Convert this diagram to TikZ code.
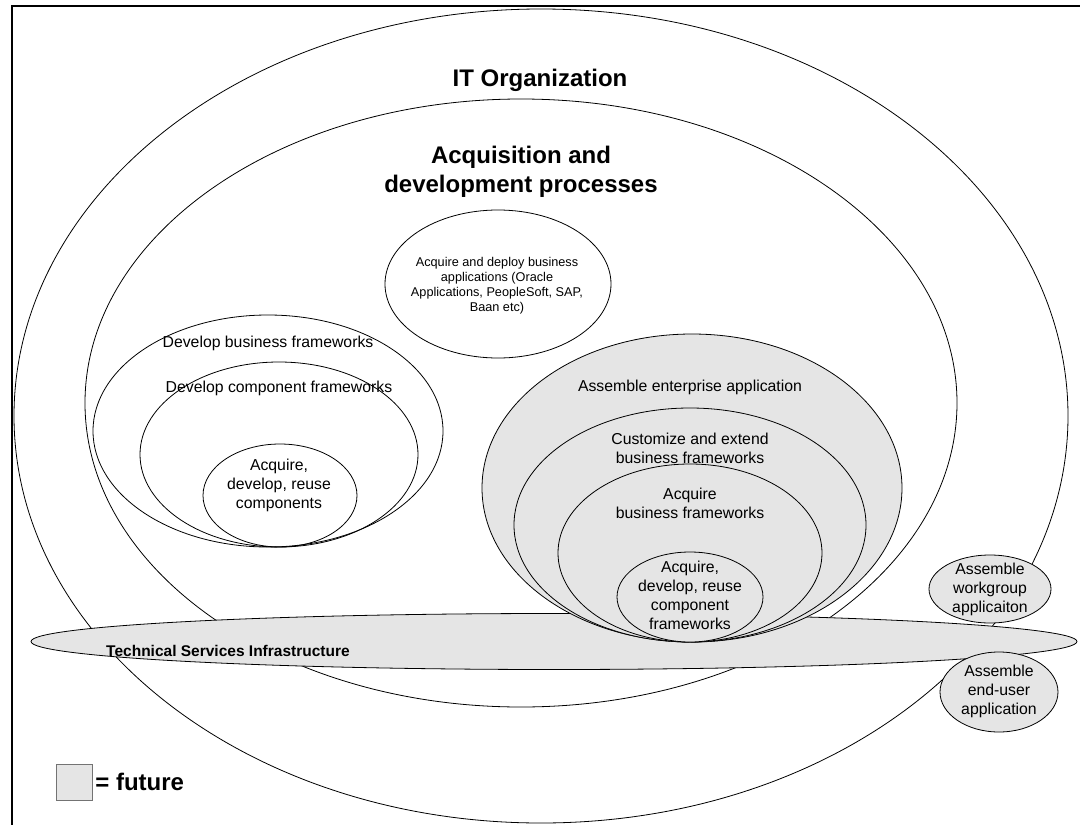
\documentclass[tikz,border=0pt]{standalone}
\usepackage{fontspec}
\setmainfont{Liberation Sans}
\usetikzlibrary{shapes.geometric,positioning}
\definecolor{futuregray}{HTML}{E5E5E5}
\tikzset{
	ring/.style={draw, ellipse, inner sep=0pt, line width=0.8pt},
	future/.style={ring, fill=futuregray},
	lbl/.style={align=center, inner sep=0pt, font=\fontsize{15.8}{19}\selectfont},
	smalllbl/.style={align=center, inner sep=0pt, font=\fontsize{12.7}{15}\selectfont},
	boldlbl/.style={align=center, inner sep=0pt, font=\bfseries\fontsize{15.5}{19}\selectfont},
	headlbl/.style={align=center, inner sep=0pt, font=\bfseries\fontsize{24}{29}\selectfont}
}

\begin{document}
\begin{tikzpicture}[x=1pt, y=-1pt]
	\useasboundingbox (0,0) rectangle (1080,825);
	\draw[line width=2pt] (12,825) -- (12,6) -- (1080,6);

	\node[ring, minimum width=1054pt, minimum height=814pt] (itorg) at (541,416) {};
	\node[ring, minimum width=872pt, minimum height=608pt] (acqdev) at (521,403) {};
	\node[ring, minimum width=226pt, minimum height=148pt] (oracle) at (498,284) {};
	\node[ring, minimum width=350pt, minimum height=232pt] (busfw) at (268,431) {};
	\node[ring, minimum width=278pt, minimum height=185pt] (compfw) at (279,454.5) {};
	\node[ring, minimum width=154pt, minimum height=103pt] (comps) at (280,495.5) {};

	\node[future, minimum width=1046pt, minimum height=56pt] (tsi) at (554,641.5) {};
	\node[future, minimum width=420pt, minimum height=308pt] (entapp) at (692,488) {};
	\node[future, minimum width=352pt, minimum height=234pt] (custfw) at (690,525) {};
	\node[future, minimum width=264pt, minimum height=178pt] (acqfw) at (690,553) {};
	\node[future, minimum width=146pt, minimum height=90pt] (compfws) at (690,597) {};
	\node[future, minimum width=122pt, minimum height=68pt] (wgapp) at (990,589) {};
	\node[future, minimum width=118pt, minimum height=80pt] (euapp) at (999,692) {};

	\node[headlbl] (itorgtxt) at (540,80) {IT Organization};
	\node[headlbl] (acqdevtxt) at (521,172) {Acquisition and\\development processes};
	\node[smalllbl] (oracletxt) at (497,286) {Acquire and deploy business\\applications (Oracle\\Applications, PeopleSoft, SAP,\\Baan etc)};
	\node[lbl] (busfwtxt) at (268,343) {Develop business frameworks};
	\node[lbl] (compfwtxt) at (279,388) {Develop component frameworks};
	\node[lbl] (compstxt) at (279,485) {Acquire,\\develop, reuse\\components};
	\node[boldlbl] (tsitxt) at (228,651) {Technical Services Infrastructure};
	\node[lbl] (entapptxt) at (690,387) {Assemble enterprise application};
	\node[lbl] (custfwtxt) at (690,448) {Customize and extend\\business frameworks};
	\node[lbl] (acqfwtxt) at (690,503) {Acquire\\business frameworks};
	\node[lbl] (compfwstxt) at (690,595) {Acquire,\\develop, reuse\\component\\frameworks};
	\node[lbl] (wgapptxt) at (990,589) {Assemble\\workgroup\\applicaiton};
	\node[lbl] (euapptxt) at (999,691) {Assemble\\end-user\\application};

	\node[draw=black!55, fill=futuregray, minimum size=36pt, inner sep=0pt] (legendbox) at (74,782) {};
	\node[headlbl, right=3pt of legendbox] (legendtxt) {= future};
\end{tikzpicture}
\end{document}
